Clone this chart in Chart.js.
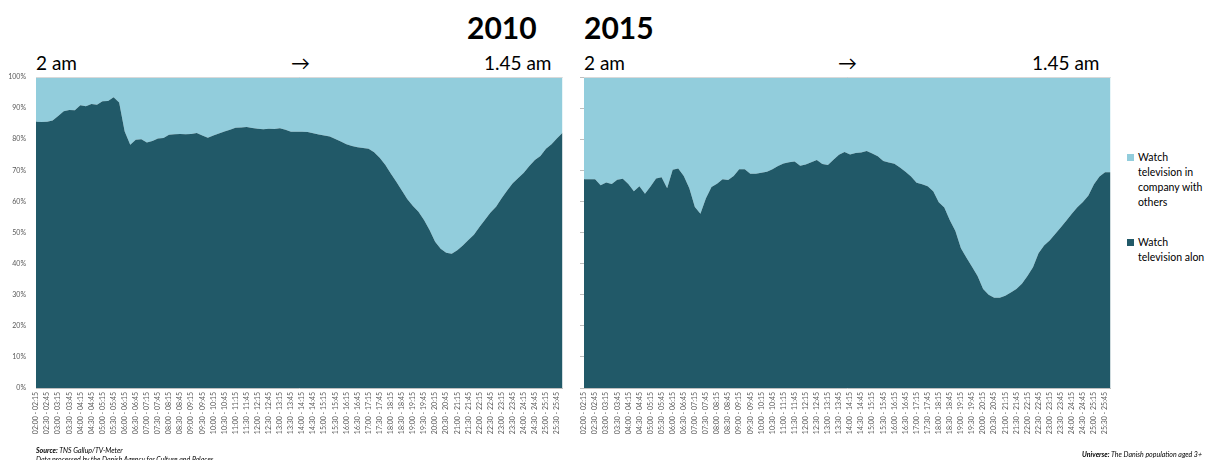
<!DOCTYPE html>
<html>
<head>
<meta charset="utf-8">
<script src="https://cdn.jsdelivr.net/npm/chart.js@4.4.1/dist/chart.umd.min.js"></script>
<style>
  body { margin: 0; background: #fff; font-family: Lato, "Liberation Sans", sans-serif; }
  #wrap { position: relative; width: 1205px; height: 460px; overflow: hidden; }
  .abs { position: absolute; white-space: nowrap; color: #000; }
  .year { font-weight: bold; font-size: 30px; line-height: 30px; top: 12px; }
  .hdr { font-size: 19px; line-height: 19px; top: 53px; }
  canvas { position: absolute; top: 0; }
  #legend { position: absolute; left: 1127px; top: 150px; font-size: 10.5px; line-height: 15px; color: #000; }
  #legend .item { position: relative; padding-left: 11px; width: 75px; }
  #legend .sw { position: absolute; left: 0; top: 4px; width: 7px; height: 7px; }
  .foot { position: absolute; font-size: 7px; font-style: italic; color: #000; white-space: nowrap; }
</style>
</head>
<body>
<div id="wrap">
  <div class="abs year" style="left:467px">2010</div>
  <div class="abs year" style="left:584px">2015</div>

  <div class="abs hdr" style="left:36px">2 am</div>
  <div class="abs hdr" style="left:291px">&rarr;</div>
  <div class="abs hdr" style="left:484px">1.45 am</div>
  <div class="abs hdr" style="left:584px">2 am</div>
  <div class="abs hdr" style="left:838px">&rarr;</div>
  <div class="abs hdr" style="left:1032px">1.45 am</div>

  <canvas id="c2010" width="575" height="460" style="left:0;width:575px;height:460px"></canvas>
  <canvas id="c2015" width="548" height="460" style="left:575px;width:548px;height:460px"></canvas>

  <div id="legend">
    <div class="item"><span class="sw" style="background:#92CDDC"></span>Watch<br>television in<br>company with<br>others</div>
    <div class="item" style="margin-top:25px"><span class="sw" style="background:#215968"></span>Watch<br>television alon</div>
  </div>

  <div class="foot" style="left:36px;top:446px"><b>Source:</b> TNS Gallup/TV-Meter</div>
  <div class="foot" style="left:36px;top:455px">Data processed by the Danish Agency for Culture and Palaces</div>
  <div class="foot" style="right:3px;top:450px"><b>Universe:</b> The Danish population aged 3+</div>
</div>

<script>
const timeLabels = [
  "02:00 - 02:15","02:15 - 02:30","02:30 - 02:45","02:45 - 03:00",
  "03:00 - 03:15","03:15 - 03:30","03:30 - 03:45","03:45 - 04:00",
  "04:00 - 04:15","04:15 - 04:30","04:30 - 04:45","04:45 - 05:00",
  "05:00 - 05:15","05:15 - 05:30","05:30 - 05:45","05:45 - 06:00",
  "06:00 - 06:15","06:15 - 06:30","06:30 - 06:45","06:45 - 07:00",
  "07:00 - 07:15","07:15 - 07:30","07:30 - 07:45","07:45 - 08:00",
  "08:00 - 08:15","08:15 - 08:30","08:30 - 08:45","08:45 - 09:00",
  "09:00 - 09:15","09:15 - 09:30","09:30 - 09:45","09:45 - 10:00",
  "10:00 - 10:15","10:15 - 10:30","10:30 - 10:45","10:45 - 11:00",
  "11:00 - 11:15","11:15 - 11:30","11:30 - 11:45","11:45 - 12:00",
  "12:00 - 12:15","12:15 - 12:30","12:30 - 12:45","12:45 - 13:00",
  "13:00 - 13:15","13:15 - 13:30","13:30 - 13:45","13:45 - 14:00",
  "14:00 - 14:15","14:15 - 14:30","14:30 - 14:45","14:45 - 15:00",
  "15:00 - 15:15","15:15 - 15:30","15:30 - 15:45","15:45 - 16:00",
  "16:00 - 16:15","16:15 - 16:30","16:30 - 16:45","16:45 - 17:00",
  "17:00 - 17:15","17:15 - 17:30","17:30 - 17:45","17:45 - 18:00",
  "18:00 - 18:15","18:15 - 18:30","18:30 - 18:45","18:45 - 19:00",
  "19:00 - 19:15","19:15 - 19:30","19:30 - 19:45","19:45 - 20:00",
  "20:00 - 20:15","20:15 - 20:30","20:30 - 20:45","20:45 - 21:00",
  "21:00 - 21:15","21:15 - 21:30","21:30 - 21:45","21:45 - 22:00",
  "22:00 - 22:15","22:15 - 22:30","22:30 - 22:45","22:45 - 23:00",
  "23:00 - 23:15","23:15 - 23:30","23:30 - 23:45","23:45 - 24:00",
  "24:00 - 24:15","24:15 - 24:30","24:30 - 24:45","24:45 - 25:00",
  "25:00 - 25:15","25:15 - 25:30","25:30 - 25:45","25:45 - 26:00"
];

// share of viewers (%) watching alone / together with others
const alone2010 = [
  85.6,85.5,85.6,86.0,87.5,89.0,89.4,89.3,90.9,90.6,
  91.3,91.1,92.2,92.3,93.5,91.8,82.5,78.2,79.8,80.0,
  78.9,79.4,80.2,80.4,81.4,81.6,81.7,81.6,81.7,82.0,
  81.2,80.5,81.2,81.8,82.5,83.0,83.7,83.8,83.9,83.6,
  83.4,83.2,83.4,83.3,83.5,83.0,82.4,82.4,82.4,82.3,
  81.9,81.5,81.2,80.9,80.1,79.3,78.4,77.8,77.4,77.2,
  76.9,75.8,74.0,71.8,69.0,66.3,63.5,60.7,58.5,56.7,
  54.0,50.8,47.0,44.8,43.5,43.2,44.3,45.8,47.6,49.3,
  51.8,54.1,56.4,58.3,61.0,63.5,65.8,67.5,69.2,71.4,
  73.3,74.6,76.9,78.4,80.3,82.1
];
const company2010 = [
  14.4,14.5,14.4,14.0,12.5,11.0,10.6,10.7,9.1,9.4,
  8.7,8.9,7.8,7.7,6.5,8.2,17.5,21.8,20.2,20.0,
  21.1,20.6,19.8,19.6,18.6,18.4,18.3,18.4,18.3,18.0,
  18.8,19.5,18.8,18.2,17.5,17.0,16.3,16.2,16.1,16.4,
  16.6,16.8,16.6,16.7,16.5,17.0,17.6,17.6,17.6,17.7,
  18.1,18.5,18.8,19.1,19.9,20.7,21.6,22.2,22.6,22.8,
  23.1,24.2,26.0,28.2,31.0,33.7,36.5,39.3,41.5,43.3,
  46.0,49.2,53.0,55.2,56.5,56.8,55.7,54.2,52.4,50.7,
  48.2,45.9,43.6,41.7,39.0,36.5,34.2,32.5,30.8,28.6,
  26.7,25.4,23.1,21.6,19.7,17.9
];
const alone2015 = [
  67.1,67.1,67.1,65.2,66.1,65.6,67.0,67.3,65.6,63.3,
  64.9,62.5,64.8,67.4,67.8,64.2,70.2,70.6,68.2,64.2,
  58.2,56.0,61.0,64.6,65.7,67.1,66.9,68.2,70.3,70.3,
  68.9,68.9,69.2,69.5,70.3,71.4,72.2,72.6,72.8,71.5,
  71.9,72.6,73.3,72.0,71.7,73.4,75.0,75.9,75.1,75.6,
  75.7,76.2,75.4,74.5,73.0,72.5,72.1,70.9,69.5,68.0,
  66.0,65.5,64.9,63.3,59.7,58.0,53.9,50.5,44.9,41.9,
  39.0,36.0,31.8,30.0,29.0,29.0,29.7,30.7,31.8,33.5,
  36.0,38.8,43.3,45.8,47.4,49.5,51.6,53.8,56.0,58.1,
  59.8,61.9,65.5,68.0,69.4,69.4
];
const company2015 = [
  32.9,32.9,32.9,34.8,33.9,34.4,33.0,32.7,34.4,36.7,
  35.1,37.5,35.2,32.6,32.2,35.8,29.8,29.4,31.8,35.8,
  41.8,44.0,39.0,35.4,34.3,32.9,33.1,31.8,29.7,29.7,
  31.1,31.1,30.8,30.5,29.7,28.6,27.8,27.4,27.2,28.5,
  28.1,27.4,26.7,28.0,28.3,26.6,25.0,24.1,24.9,24.4,
  24.3,23.8,24.6,25.5,27.0,27.5,27.9,29.1,30.5,32.0,
  34.0,34.5,35.1,36.7,40.3,42.0,46.1,49.5,55.1,58.1,
  61.0,64.0,68.2,70.0,71.0,71.0,70.3,69.3,68.2,66.5,
  64.0,61.2,56.7,54.2,52.6,50.5,48.4,46.2,44.0,41.9,
  40.2,38.1,34.5,32.0,30.6,30.6
];

const DARK = '#215968';
const LIGHT = '#92CDDC';
const AXIS = '#bfbfbf';
const TICK = '#595959';

// thin grey line along the top of the plot area
const topLine = {
  id: 'topLine',
  afterDraw(chart) {
    const a = chart.chartArea, ctx = chart.ctx;
    ctx.save();
    ctx.strokeStyle = '#d9d9d9';
    ctx.lineWidth = 1;
    ctx.beginPath();
    ctx.moveTo(a.left, a.top + 0.5);
    ctx.lineTo(a.right, a.top + 0.5);
    ctx.stroke();
    ctx.restore();
  }
};

function makeChart(id, alone, company, showY) {
  const ctx = document.getElementById(id).getContext('2d');
  return new Chart(ctx, {
    type: 'line',
    data: {
      labels: timeLabels,
      datasets: [
        {
          label: 'Watch television alon',
          data: alone,
          fill: 'origin',
          backgroundColor: DARK,
          borderWidth: 0,
          pointRadius: 0,
          tension: 0
        },
        {
          label: 'Watch television in company with others',
          data: company,
          fill: '-1',
          backgroundColor: LIGHT,
          borderWidth: 0,
          pointRadius: 0,
          tension: 0
        }
      ]
    },
    options: {
      responsive: false,
      animation: false,
      layout: { padding: { top: 77, right: 10, left: 0, bottom: 10 } },
      scales: {
        x: {
          grid: { display: false, drawTicks: false },
          border: { display: true, color: AXIS },
          ticks: {
            autoSkip: false,
            minRotation: 90,
            maxRotation: 90,
            padding: 4,
            color: TICK,
            font: { family: 'Lato', size: 7 },
            callback: function(v, i) { return i % 2 === 0 ? this.getLabelForValue(v) : ''; }
          },
          afterFit: s => { s.height = 62; }
        },
        y: {
          stacked: true,
          min: 0,
          max: 100,
          grid: { display: !showY, drawOnChartArea: false, drawTicks: true, tickLength: 4, color: AXIS },
          border: { display: true, color: AXIS },
          ticks: {
            display: showY,
            stepSize: 10,
            padding: 6,
            color: TICK,
            font: { family: 'Lato', size: 7 },
            callback: v => v + '%'
          },
          afterFit: s => { s.width = showY ? 36 : 9; }
        }
      },
      plugins: {
        legend: { display: false },
        tooltip: { enabled: false }
      }
    },
    plugins: [topLine]
  });
}

makeChart('c2010', alone2010, company2010, true);
makeChart('c2015', alone2015, company2015, false);
</script>
</body>
</html>
